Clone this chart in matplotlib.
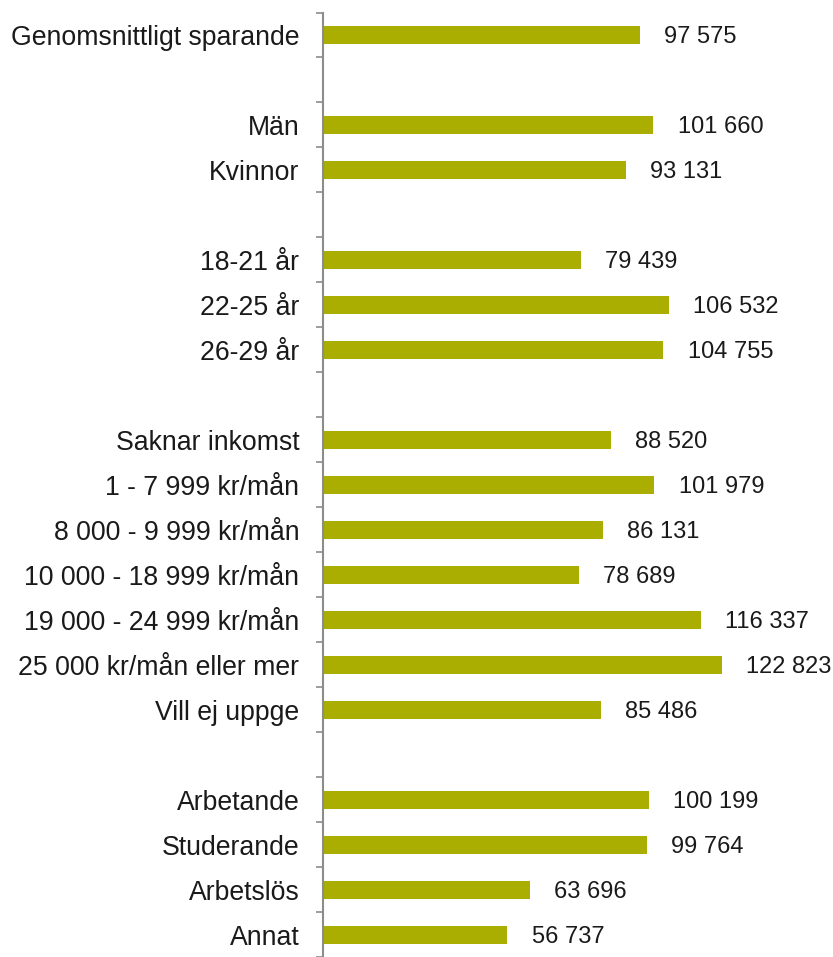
import matplotlib
matplotlib.use("Agg")
import matplotlib.pyplot as plt
import numpy as np

plt.rcParams["font.family"] = ["Liberation Sans", "DejaVu Sans"]

# empty strings / None mark the blank spacer rows between groups
categories = [
    "Genomsnittligt sparande", "",
    "Män", "Kvinnor", "",
    "18-21 år", "22-25 år", "26-29 år", "",
    "Saknar inkomst", "1 - 7 999 kr/mån", "8 000 - 9 999 kr/mån",
    "10 000 - 18 999 kr/mån", "19 000 - 24 999 kr/mån",
    "25 000 kr/mån eller mer", "Vill ej uppge", "",
    "Arbetande", "Studerande", "Arbetslös", "Annat",
]
values = [
    97575, None,
    101660, 93131, None,
    79439, 106532, 104755, None,
    88520, 101979, 86131, 78689, 116337, 122823, 85486, None,
    100199, 99764, 63696, 56737,
]

BAR_COLOR = "#A9AE00"
AXIS_COLOR = "#8C8C8C"
TEXT_COLOR = "#1A1A1A"

W, H = 833, 957
fig = plt.figure(figsize=(W / 100, H / 100), dpi=100)

left = 323 / W
top_px = 12.5
row_px = 45.1
ax = fig.add_axes([left, 0, 0.995 - left, 1 - top_px / H])

n = len(categories)
y = np.arange(n)
for i, v in enumerate(values):
    if v is None:
        continue
    ax.barh(i, v, height=0.4, color=BAR_COLOR)
    ax.annotate(f"{v:,}".replace(",", " "), xy=(v, i), xytext=(17.5, 0),
                textcoords="offset points", va="center_baseline", ha="left",
                fontsize=17, color=TEXT_COLOR)

px_per_unit = 399 / 122823
ax.set_xlim(0, (0.995 * W - 323) / px_per_unit)
rows_visible = (H - top_px) / row_px
ax.set_ylim(-0.5 + rows_visible, -0.5)

ax.set_yticks(y)
ax.set_yticklabels(categories, fontsize=19.2, color=TEXT_COLOR)
ax.tick_params(axis="y", which="major", length=0, pad=17)
ax.set_yticks(np.arange(-0.5, n, 1.0), minor=True)
ax.tick_params(axis="y", which="minor", length=5, width=1.2, color=AXIS_COLOR)

ax.set_xticks([])
for side in ["top", "right", "bottom"]:
    ax.spines[side].set_visible(False)
ax.spines["left"].set_color(AXIS_COLOR)
ax.spines["left"].set_linewidth(1.5)

fig.savefig("out.png", dpi=100)
